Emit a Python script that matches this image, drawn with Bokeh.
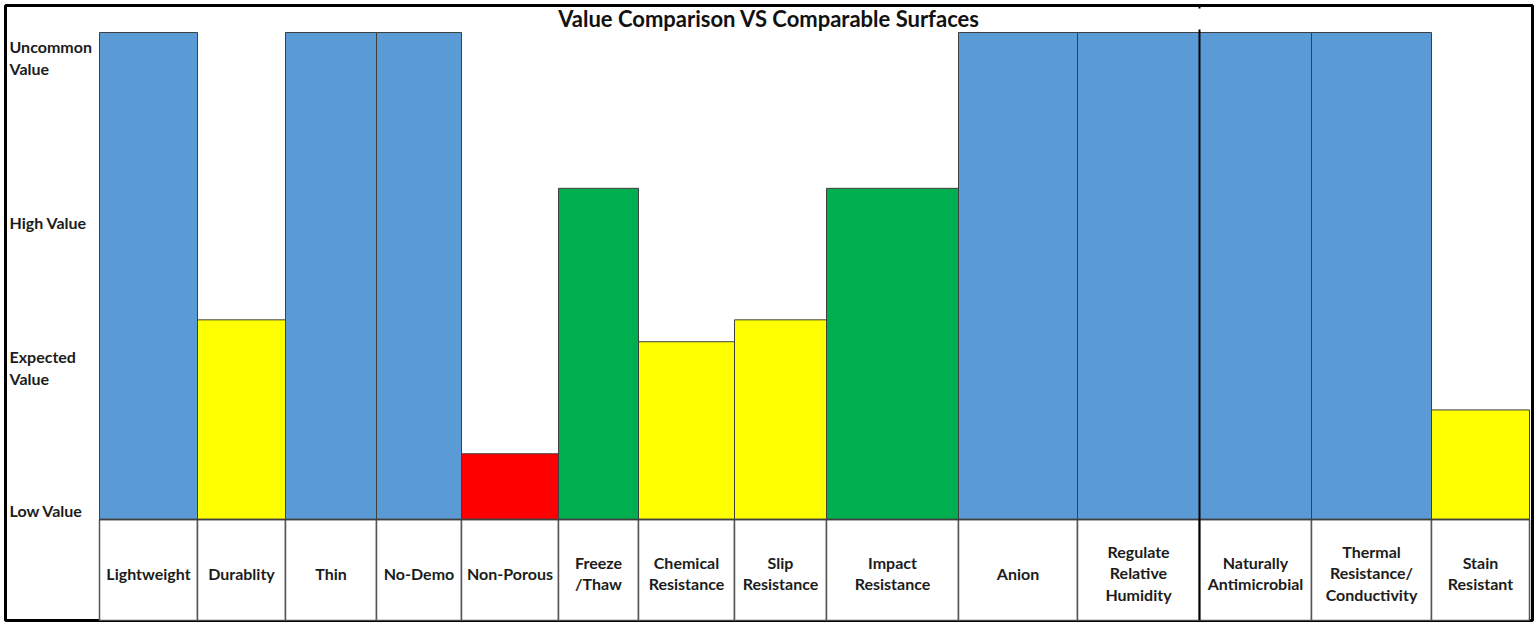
import numpy as np
from bokeh.plotting import figure
from bokeh.models import Range1d, ColumnDataSource
from bokeh.core.properties import value
from bokeh.embed import file_html
from bokeh.resources import INLINE

# ---- data ----
categories = ["Lightweight", "Durablity", "Thin", "No-Demo", "Non-Porous",
              "Freeze\n/Thaw", "Chemical\nResistance", "Slip\nResistance",
              "Impact\nResistance", "Anion", "Regulate\nRelative\nHumidity",
              "Naturally\nAntimicrobial", "Thermal\nResistance/\nConductivity",
              "Stain\nResistant"]
column_widths = [98, 88, 91, 85, 97, 80, 96, 92, 132, 119, 122, 112, 120, 98]
scores = [100, 41, 100, 100, 13.5, 68, 36.5, 41, 68, 100, 100, 100, 100, 22.5]
levels = ["uncommon", "expected", "uncommon", "uncommon", "low", "high",
          "expected", "expected", "high", "uncommon", "uncommon", "uncommon",
          "uncommon", "expected"]
level_colors = {"uncommon": "#5B9BD5", "high": "#00B050",
                "expected": "#FFFF00", "low": "#FF0000"}
tick_labels = ["Uncommon\nValue", "High Value", "Expected\nValue", "Low Value"]
tick_positions = [94.9, 61.0, 31.2, 1.9]
title_text = "Value Comparison VS Comparable Surfaces"

# ---- derived ----
widths = np.array(column_widths, dtype=float)
rights = np.cumsum(widths)
lefts = rights - widths
centers = (lefts + rights) / 2
total = rights[-1]

FONT = "Lato"
TXT = "#1c1c1c"

px_per_unit = 4.87
x_start, x_end = -94, total + 3
y_start, y_end = -101 / px_per_unit, 514 / px_per_unit

p = figure(width=1537, height=624, output_backend="svg", toolbar_location=None,
           x_range=Range1d(x_start, x_end), y_range=Range1d(y_start, y_end),
           min_border_left=5, min_border_right=5, min_border_top=5,
           min_border_bottom=4)
p.axis.visible = False
p.grid.visible = False
p.outline_line_color = "black"
p.outline_line_width = 3
p.background_fill_color = "white"

bars = ColumnDataSource(dict(left=lefts, right=rights, top=scores,
                             bottom=[0] * len(scores),
                             color=[level_colors[l] for l in levels]))
p.quad(left="left", right="right", top="top", bottom="bottom", source=bars,
       fill_color="color", line_color="#3f3f3f", line_width=1)

# table row with labels
cells = ColumnDataSource(dict(left=lefts, right=rights,
                              top=[0] * len(lefts),
                              bottom=[y_start] * len(lefts)))
p.quad(left="left", right="right", top="top", bottom="bottom", source=cells,
       fill_color="white", line_color="#555555", line_width=1.5)
p.segment(x0=[0], x1=[total], y0=[0], y1=[0], line_color="#3f3f3f", line_width=1.5)

# thick separator line
sep_x = rights[10]
p.segment(x0=[sep_x], x1=[sep_x], y0=[y_start], y1=[490 / px_per_unit],
          line_color="black", line_width=2)
p.segment(x0=[sep_x], x1=[sep_x], y0=[y_end], y1=[511 / px_per_unit],
          line_color="black", line_width=2)

label_y = -53.5 / px_per_unit
p.text(x=list(centers), y=[label_y] * len(centers), text=categories,
       text_align="center", text_baseline="middle",
       text_font=value(FONT), text_font_style="bold", text_font_size="16px",
       text_color=TXT, text_line_height=1.12)

# y-axis labels
p.text(x=[x_start + 4] * len(tick_labels), y=tick_positions, text=tick_labels,
       text_align="left", text_baseline="middle",
       text_font=value(FONT), text_font_style="bold", text_font_size="16px",
       text_color=TXT, text_line_height=1.15)

# title
p.text(x=[(x_start + x_end) / 2], y=[501 / px_per_unit], text=[title_text],
       text_align="center", text_baseline="middle",
       text_font=value(FONT), text_font_style="bold", text_font_size="22px",
       text_color="#111111")

open("out.html", "w").write(file_html(p, INLINE))
